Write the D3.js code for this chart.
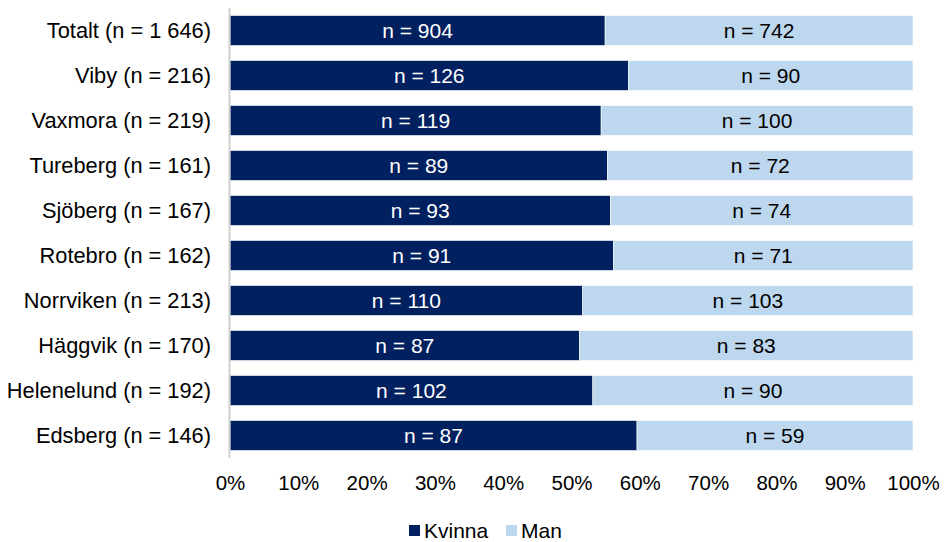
<!DOCTYPE html>
<html><head><meta charset="utf-8">
<script src="https://cdn.jsdelivr.net/npm/d3@7"></script>
<style>body{margin:0;background:#fff}svg{display:block;font-family:"Liberation Sans",Arial,sans-serif}</style>
</head><body>
<svg id="c" width="944" height="542"></svg>
<script>
const categories = ["Totalt (n = 1 646)","Viby (n = 216)","Vaxmora (n = 219)","Tureberg (n = 161)","Sjöberg (n = 167)","Rotebro (n = 162)","Norrviken (n = 213)","Häggvik (n = 170)","Helenelund (n = 192)","Edsberg (n = 146)"];
const kvinna = [904,126,119,89,93,91,110,87,102,87];
const man = [742,90,100,72,74,71,103,83,90,59];
const seriesNames = ["Kvinna","Man"];
const colors = ["#002060","#BDD7EE"];
const tickValues = [0,0.1,0.2,0.3,0.4,0.5,0.6,0.7,0.8,0.9,1];

const svg = d3.select("#c");
const x = d3.scaleLinear().domain([0,1]).range([230,913]);
const y = d3.scaleBand().domain(categories).range([8,458]).paddingInner(1/3).paddingOuter(1/6);

const rows = categories.map((c,i)=>{const t=kvinna[i]+man[i];return {c,k:kvinna[i],m:man[i],pk:kvinna[i]/t};});

const g = svg.append("g");
rows.forEach(r=>{
  const segs=[{v0:0,v1:r.pk,n:r.k,col:colors[0],tc:"#fff"},{v0:r.pk,v1:1,n:r.m,col:colors[1],tc:"#000"}];
  segs.forEach(s=>{
    g.append("rect").attr("x",x(s.v0)).attr("y",y(r.c)).attr("width",x(s.v1)-x(s.v0)).attr("height",y.bandwidth())
      .attr("fill",s.col).attr("stroke","#fff").attr("stroke-width",0.6);
    g.append("text").attr("x",(x(s.v0)+x(s.v1))/2).attr("y",y(r.c)+y.bandwidth()/2).attr("dy","0.35em")
      .attr("text-anchor","middle").attr("font-size",21).attr("fill",s.tc).text("n = "+s.n);
  });
});

// y axis line
svg.append("line").attr("x1",229.5).attr("x2",229.5).attr("y1",8).attr("y2",458).attr("stroke","#d0d0d0").attr("stroke-width",2);

// category labels
svg.append("g").selectAll("text").data(categories).join("text")
  .attr("x",211).attr("y",d=>y(d)+y.bandwidth()/2).attr("dy","0.35em").attr("text-anchor","end")
  .attr("font-size",21.8).attr("fill","#000").text(d=>d);

// x axis
const xa = svg.append("g").attr("transform","translate(0,483)")
  .call(d3.axisBottom(x).tickValues(tickValues).tickFormat(d3.format(".0%")).tickSize(0).tickPadding(0));
xa.select(".domain").remove();
xa.selectAll("text").attr("font-size",20.5).attr("fill","#000").attr("font-family","Liberation Sans, Arial, sans-serif").attr("dy","0.35em");

// legend
const leg = svg.append("g");
const lx=[409,506];
seriesNames.forEach((n,i)=>{
  leg.append("rect").attr("x",lx[i]).attr("y",525).attr("width",11).attr("height",11).attr("fill",colors[i]);
  leg.append("text").attr("x",lx[i]+15).attr("y",531).attr("dy","0.35em").attr("font-size",21).attr("fill","#000").text(n);
});
</script>
</body></html>
